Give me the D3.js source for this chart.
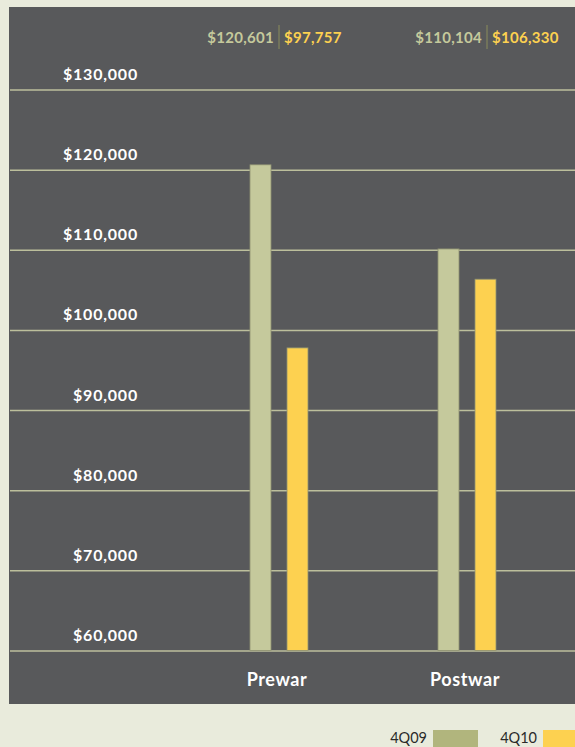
<!DOCTYPE html>
<html>
<head>
<meta charset="utf-8">
<script src="https://cdn.jsdelivr.net/npm/d3@7"></script>
<style>
  html, body { margin: 0; padding: 0; background: #e9ebdc; }
  svg { display: block; }
  text { font-family: Lato, "Open Sans", sans-serif; }
</style>
</head>
<body>
<svg id="chart" width="575" height="747"></svg>
<script>
// Average sale price by building era, fourth quarter 2009 vs 2010
const categories = ["Prewar", "Postwar"];
const seriesNames = ["4Q09", "4Q10"];
const values4Q09 = [120601, 110104];
const values4Q10 = [97757, 106330];
const yTicks = [60000, 70000, 80000, 90000, 100000, 110000, 120000, 130000];

const colors = { "4Q09": "#c5c99c", "4Q10": "#fdd150" };
const legendColors = { "4Q09": "#b1b57d", "4Q10": "#fdd150" };

const W = 575, H = 747;
const panel = { x: 9, y: 7, w: 575 - 9, h: 704 - 7 };
const plotTop = 89.5, plotBottom = 650.5;

const svg = d3.select("#chart");

// dark chart panel
svg.append("rect")
  .attr("x", panel.x).attr("y", panel.y)
  .attr("width", panel.w).attr("height", panel.h)
  .attr("fill", "#58595b");

const y = d3.scaleLinear().domain([60000, 130000]).range([plotBottom, plotTop]);
const x = d3.scaleBand().domain(categories).range([185, 561]).padding(0);
const xs = d3.scaleBand().domain(seriesNames).range([-29, 29])
  .paddingInner(16 / 37).paddingOuter(0);

const rows = categories.map((c, i) => ({
  category: c,
  "4Q09": values4Q09[i],
  "4Q10": values4Q10[i]
}));

// y axis: gridlines across the panel, labels sitting above each line
const fmt = d3.format("$,");
const axis = d3.axisLeft(y)
  .tickValues(yTicks)
  .tickSize(-(W - 10))
  .tickFormat(fmt);

const gAxis = svg.append("g")
  .attr("transform", "translate(10,0)")
  .call(axis);
gAxis.select(".domain").remove();
gAxis.selectAll(".tick line")
  .attr("stroke", "#bcbf9c")
  .attr("stroke-width", 1.5);
gAxis.selectAll(".tick text")
  .attr("x", 128)
  .attr("dy", -10)
  .attr("text-anchor", "end")
  .attr("fill", "#ffffff")
  .attr("font-size", 16)
  .attr("font-weight", 700)
  .attr("letter-spacing", 0.8);

// bars
const groups = svg.append("g").selectAll("g")
  .data(rows)
  .join("g")
  .attr("transform", d => `translate(${x(d.category) + x.bandwidth() / 2},0)`);

groups.selectAll("rect")
  .data(d => seriesNames.map(s => ({ series: s, value: d[s] })))
  .join("rect")
  .attr("x", d => xs(d.series))
  .attr("width", xs.bandwidth())
  .attr("y", d => y(d.value))
  .attr("height", d => y(60000) - y(d.value))
  .attr("fill", d => colors[d.series])
  .attr("stroke", "#8f9272")
  .attr("stroke-width", 0.8);

// category labels
svg.append("g").selectAll("text")
  .data(categories)
  .join("text")
  .attr("x", d => x(d) + x.bandwidth() / 2 - 2)
  .attr("y", 686)
  .attr("text-anchor", "middle")
  .attr("fill", "#ffffff")
  .attr("font-size", 18)
  .attr("font-weight", 700)
  .attr("letter-spacing", 0.6)
  .text(d => d);

// value annotations along the top, split by a thin rule
const annShift = { Prewar: 0, Postwar: 20 };
const ann = svg.append("g").selectAll("g")
  .data(rows)
  .join("g")
  .attr("transform", d => `translate(${x(d.category) + x.bandwidth() / 2 + annShift[d.category]},0)`);

ann.append("line")
  .attr("x1", 0).attr("x2", 0)
  .attr("y1", 25).attr("y2", 49)
  .attr("stroke", "#8a8d5c")
  .attr("stroke-width", 1);

ann.append("text")
  .attr("x", -5).attr("y", 43)
  .attr("text-anchor", "end")
  .attr("fill", colors["4Q09"])
  .attr("font-size", 15)
  .attr("font-weight", 700)
  .attr("letter-spacing", 0.3)
  .text(d => fmt(d["4Q09"]));

ann.append("text")
  .attr("x", 5).attr("y", 43)
  .attr("text-anchor", "start")
  .attr("fill", colors["4Q10"])
  .attr("font-size", 15)
  .attr("font-weight", 700)
  .attr("letter-spacing", 0.3)
  .text(d => fmt(d["4Q10"]));

// legend in the lower right
const legendX = { "4Q09": 433, "4Q10": 543 };
const legend = svg.append("g").selectAll("g")
  .data(seriesNames)
  .join("g")
  .attr("transform", d => `translate(${legendX[d]},0)`);

legend.append("rect")
  .attr("x", 0).attr("y", 730)
  .attr("width", 45).attr("height", 20)
  .attr("fill", d => legendColors[d]);

legend.append("text")
  .attr("x", -6).attr("y", 743)
  .attr("text-anchor", "end")
  .attr("fill", "#2a2a2a")
  .attr("font-size", 14.5)
  .text(d => d);
</script>
</body>
</html>
